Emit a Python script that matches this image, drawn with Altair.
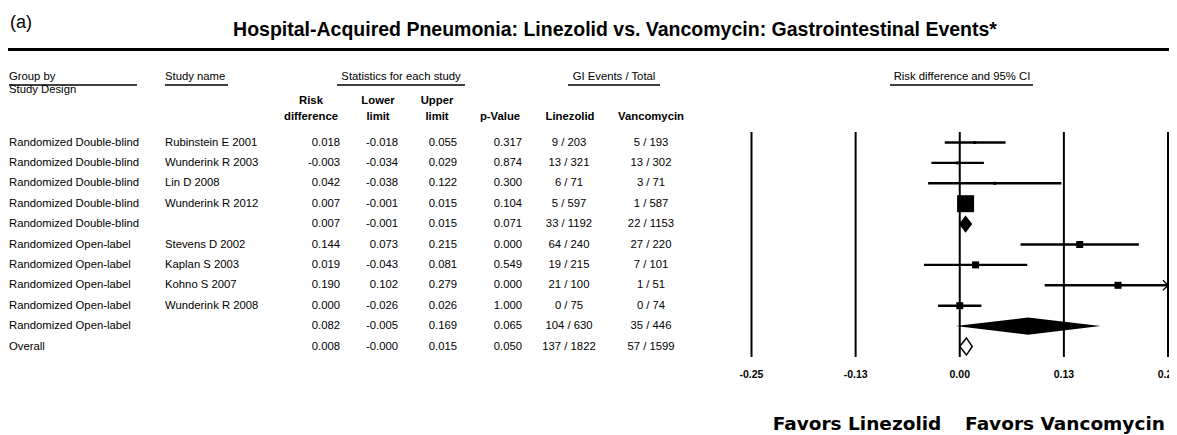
import altair as alt
import pandas as pd

# ---------------- data ----------------
groups = ["Randomized Double-blind"] * 5 + ["Randomized Open-label"] * 5 + ["Overall"]
studies = ["Rubinstein E 2001", "Wunderink R 2003", "Lin D 2008", "Wunderink R 2012", "",
           "Stevens D 2002", "Kaplan S 2003", "Kohno S 2007", "Wunderink R 2008", "", ""]
risk_diff = [0.018, -0.003, 0.042, 0.007, 0.007, 0.144, 0.019, 0.190, 0.000, 0.082, 0.008]
lower = [-0.018, -0.034, -0.038, -0.001, -0.001, 0.073, -0.043, 0.102, -0.026, -0.005, -0.0]
upper = [0.055, 0.029, 0.122, 0.015, 0.015, 0.215, 0.081, 0.279, 0.026, 0.169, 0.015]
p_values = [0.317, 0.874, 0.300, 0.104, 0.071, 0.000, 0.549, 0.000, 1.000, 0.065, 0.050]
linezolid = ["9 / 203", "13 / 321", "6 / 71", "5 / 597", "33 / 1192", "64 / 240",
             "19 / 215", "21 / 100", "0 / 75", "104 / 630", "137 / 1822"]
vancomycin = ["5 / 193", "13 / 302", "3 / 71", "1 / 587", "22 / 1153", "27 / 220",
              "7 / 101", "1 / 51", "0 / 74", "35 / 446", "57 / 1599"]
row_type = ["study"] * 4 + ["subtotal"] + ["study"] * 4 + ["subtotal", "overall"]
weights = [3, 3, 3, 100, 0, 17, 17, 17, 17, 0, 0]
tick_values = [-0.25, -0.125, 0.0, 0.125, 0.25]
tick_labels = ["-0.25", "-0.13", "0.00", "0.13", "0.25"]

df = pd.DataFrame({
    "row": list(range(len(groups))),
    "group": groups, "study": studies,
    "rd": risk_diff, "lo": lower, "hi": upper, "p": p_values,
    "lin": linezolid, "van": vancomycin, "type": row_type, "weight": weights,
})
df["rd_t"] = [f"{v:.3f}" for v in risk_diff]
df["lo_t"] = [f"{v:.3f}" for v in lower]
df["hi_t"] = [f"{v:.3f}" for v in upper]
df["p_t"] = [f"{v:.3f}" for v in p_values]

ticks = pd.DataFrame({"tick": tick_values, "label": tick_labels})

# ---------------- styling ----------------
F = "Liberation Sans"
FS = 11.3
ONE = pd.DataFrame({"k": [0]})
XS = alt.Scale(domain=[-0.25, 0.25], range=[743.5, 1160], clamp=True)
YS = alt.Scale(domain=[0, 10], range=[134.5, 338.5])
Y = alt.Y("row:Q", scale=YS, axis=None)
HALF = 0.42  # half height of summary diamonds, in row units


def label(text, x, y, size=FS, bold=False, align="left", font=F, baseline="middle"):
    return alt.Chart(ONE).mark_text(
        text=text, align=align, baseline=baseline, font=font, fontSize=size,
        fontWeight="bold" if bold else "normal", color="black"
    ).encode(x=alt.value(x), y=alt.value(y))


def underline(x1, x2, y, w=1.4):
    return alt.Chart(ONE).mark_rule(color="black", strokeWidth=w).encode(
        x=alt.value(x1), x2=alt.value(x2), y=alt.value(y))


def column(field, x, align):
    return alt.Chart(df).mark_text(
        align=align, baseline="middle", font=F, fontSize=FS, color="black"
    ).encode(x=alt.value(x), y=Y, text=f"{field}:N")


def diamond(r, filled):
    pts = pd.DataFrame({
        "px": [r.lo, r.rd, r.hi],
        "ytop": [r.row, r.row - HALF, r.row],
        "ybot": [r.row, r.row + HALF, r.row],
    })
    if filled:
        m = alt.Chart(pts).mark_area(color="black", opacity=1)
    else:
        m = alt.Chart(pts).mark_area(fill="white", stroke="black", strokeWidth=1.5, opacity=1)
    return m.encode(
        x=alt.X("px:Q", scale=XS, axis=None),
        y=alt.Y("ytop:Q", scale=YS, axis=None, stack=None),
        y2="ybot:Q",
    )


# forest plot
grid = alt.Chart(ticks).mark_rule(color="black", strokeWidth=2).encode(
    x=alt.X("tick:Q", scale=XS, axis=None), y=alt.value(124), y2=alt.value(349))
tick_text = alt.Chart(ticks).mark_text(
    font=F, fontSize=10.5, fontWeight="bold", baseline="middle", align="center", color="black"
).encode(x=alt.X("tick:Q", scale=XS, axis=None), y=alt.value(367), text="label:N")

study_df = df[df["type"] == "study"]
ci = alt.Chart(study_df).mark_rule(color="black", strokeWidth=2.4).encode(
    x=alt.X("lo:Q", scale=XS, axis=None), x2="hi:Q", y=Y)
squares = alt.Chart(study_df).mark_square(color="black", filled=True, opacity=1).encode(
    x=alt.X("rd:Q", scale=XS, axis=None), y=Y,
    size=alt.Size("weight:Q", scale=alt.Scale(domain=[0, 100], range=[0, 289]), legend=None))
arrow = alt.Chart(study_df[study_df["hi"] > 0.25]).mark_point(
    shape="M-1,-1L0,0L-1,1", filled=False, color="black", strokeWidth=1.3, size=100, opacity=1
).encode(x=alt.X("hi:Q", scale=XS, axis=None), y=Y)

diamonds = [diamond(r, r.type == "subtotal") for r in df[df["type"] != "study"].itertuples()]

layers = [grid, ci, squares, arrow] + diamonds + [tick_text]

# header
layers += [
    label("(a)", 2, 15, size=18),
    label("Hospital-Acquired Pneumonia: Linezolid vs. Vancomycin: Gastrointestinal Events*",
          607, 28, size=19.5, bold=True, align="center", baseline="alphabetic"),
    underline(0, 1161, 41.5, w=3),
    label("Group by", 1, 69), underline(1, 129, 77),
    label("Study Design", 1, 82),
    label("Study name", 157, 69), underline(157, 220, 77),
    label("Statistics for each study", 393, 69, align="center"), underline(329, 457, 77),
    label("GI Events / Total", 606, 69, align="center"), underline(560, 652, 77),
    label("Risk difference and 95% CI", 954, 69, align="center"), underline(882, 1025, 77),
    label("Risk", 303, 93, bold=True, align="center"),
    label("difference", 303, 108.5, bold=True, align="center"),
    label("Lower", 370, 93, bold=True, align="center"),
    label("limit", 370, 108.5, bold=True, align="center"),
    label("Upper", 429, 93, bold=True, align="center"),
    label("limit", 429, 108.5, bold=True, align="center"),
    label("p-Value", 492, 108.5, bold=True, align="center"),
    label("Linezolid", 562, 108.5, bold=True, align="center"),
    label("Vancomycin", 643, 108.5, bold=True, align="center"),
]

# table body
layers += [
    column("group", 1, "left"),
    column("study", 157, "left"),
    column("rd_t", 332, "right"),
    column("lo_t", 390, "right"),
    column("hi_t", 449, "right"),
    column("p_t", 514, "right"),
    column("lin", 561, "center"),
    column("van", 643, "center"),
]

layers += [
    label("Favors Linezolid", 849, 422, size=18.5, bold=True, align="center",
          font="DejaVu Sans", baseline="alphabetic"),
    label("Favors Vancomycin", 1057, 422, size=18.5, bold=True, align="center",
          font="DejaVu Sans", baseline="alphabetic"),
]

chart = alt.layer(*layers).properties(
    width=1161, height=427, padding=0,
    autosize=alt.AutoSizeParams(type="none"),
    background="white",
).configure_view(stroke=None)

chart.save("out.html", embed_options={"renderer": "svg", "actions": False})
